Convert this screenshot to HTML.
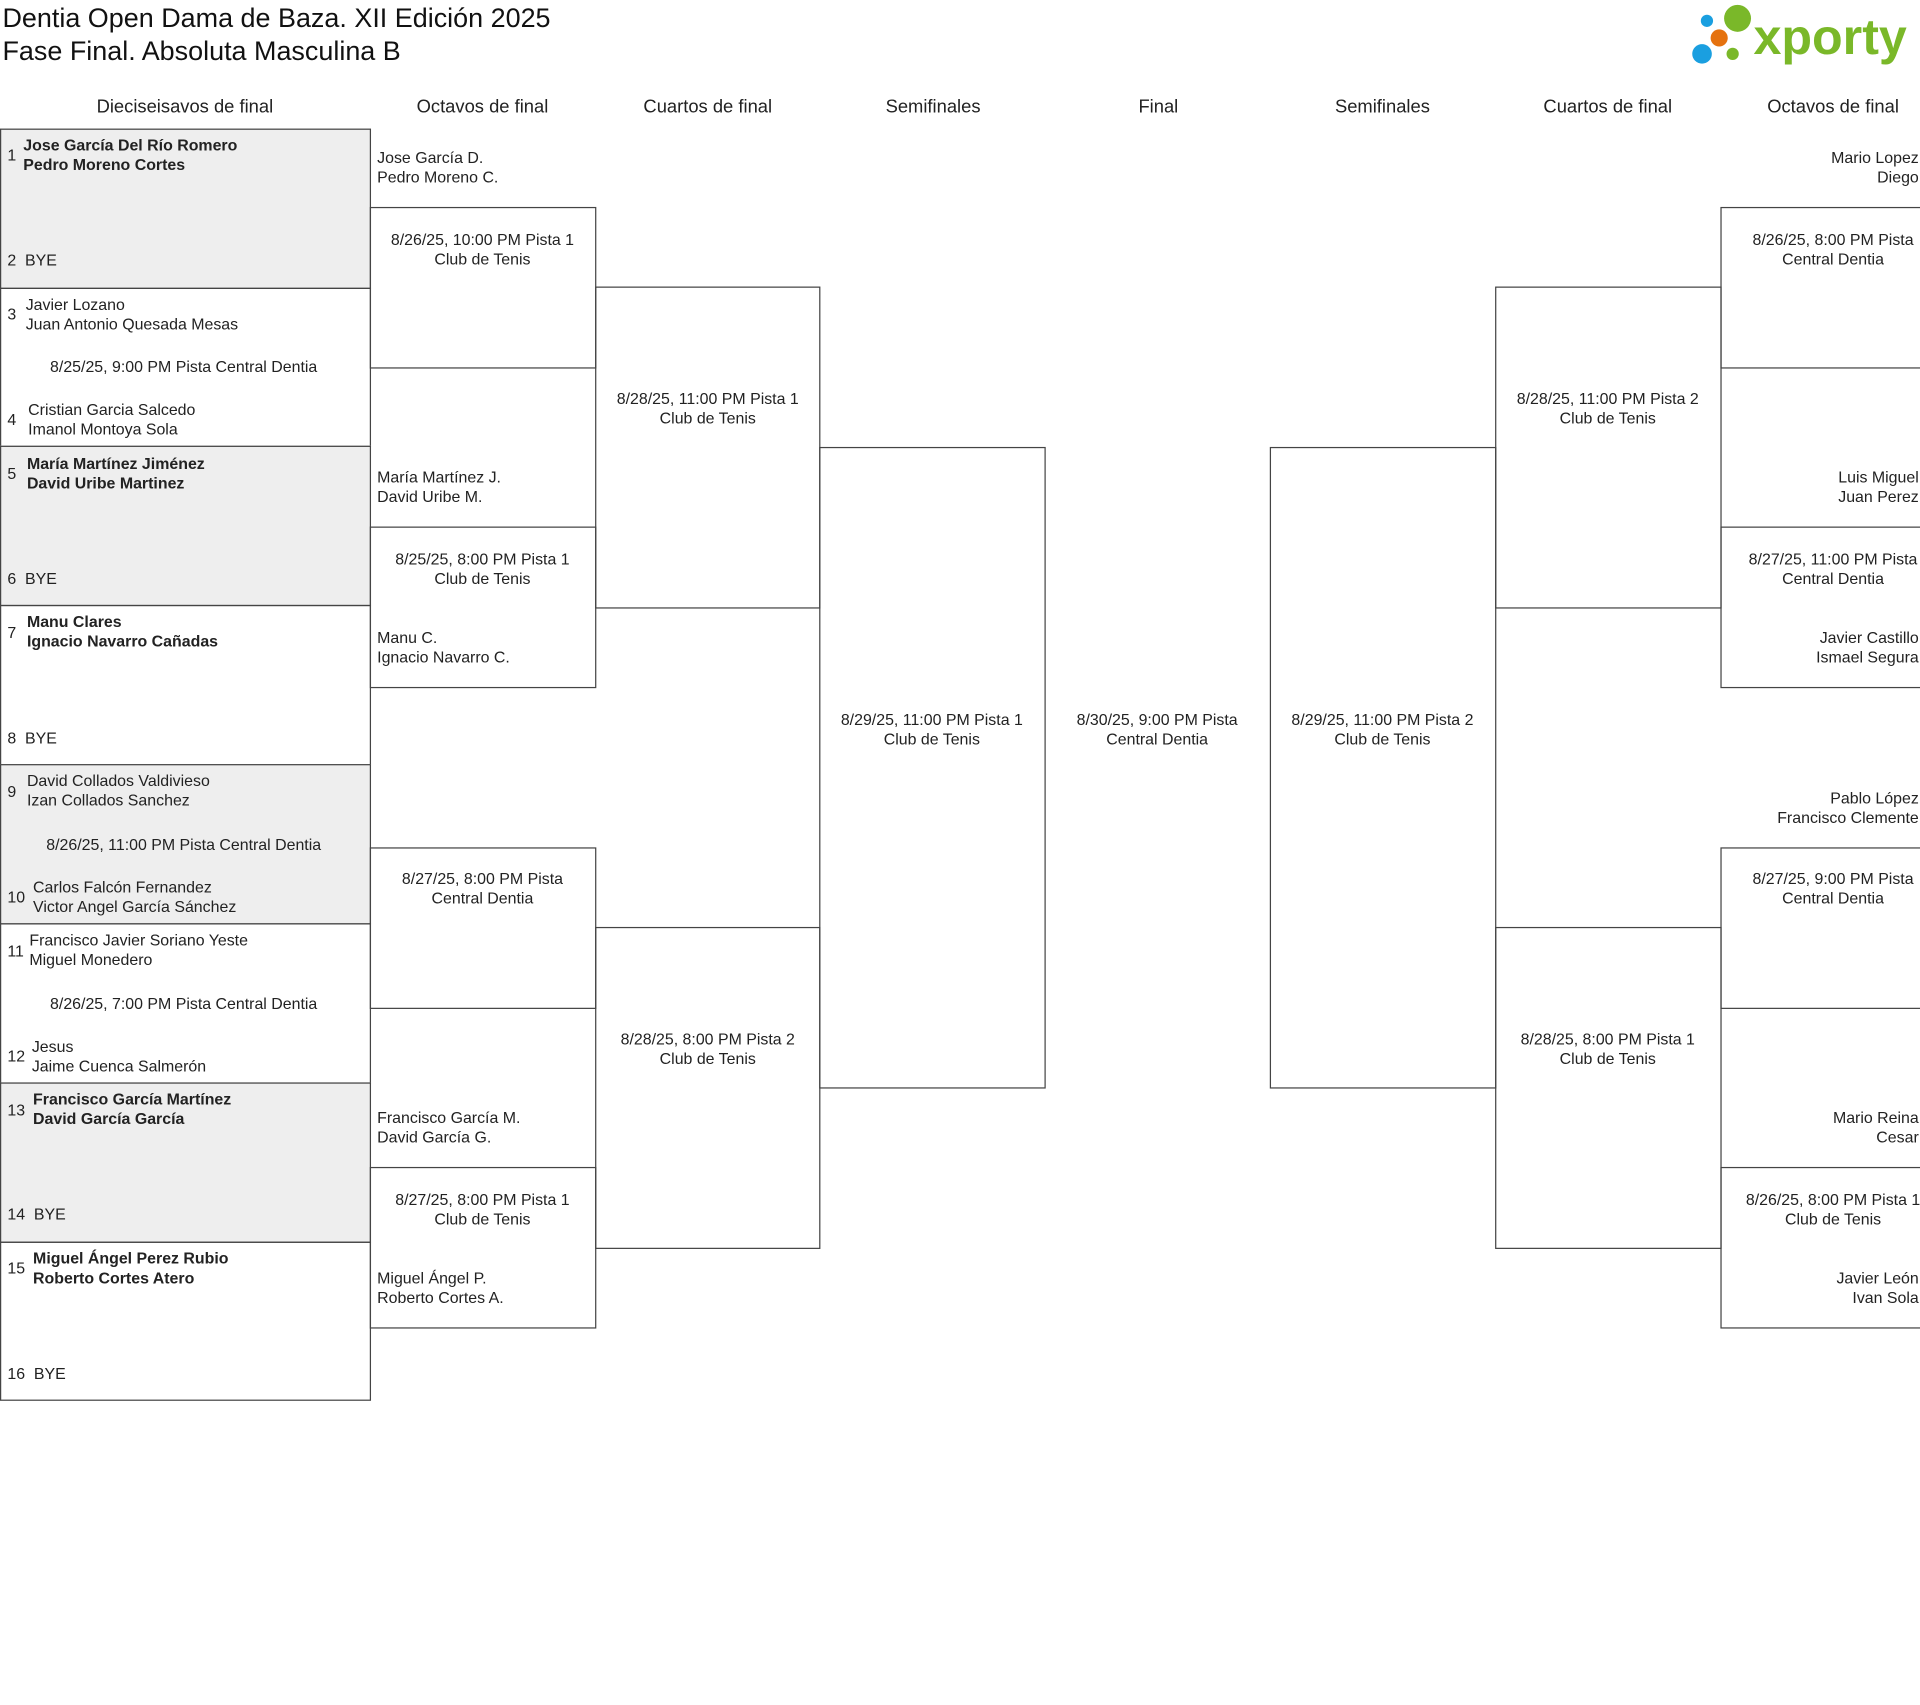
<!DOCTYPE html>
<html><head><meta charset="utf-8"><style>
html,body{margin:0;padding:0;background:#fff;width:1920px;height:1704px;overflow:hidden}
#w{position:absolute;left:0;top:0;width:1568px;height:1392px;transform:scale(1.22449);transform-origin:0 0;font-family:"Liberation Sans",sans-serif;color:#222}
.a{position:absolute;white-space:nowrap}
.t{font-size:13px;line-height:16px;padding-top:1px}
.b{position:absolute;border:1px solid #444;box-sizing:border-box}
.h{position:absolute;font-size:15px;top:79px;width:200px;text-align:center;margin-left:-100px;white-space:nowrap}
.c{text-align:center;width:240px;margin-left:-120px}
.r{text-align:right;right:1px}
.bold{font-weight:bold}
</style></head><body><div id="w">
<div class="a" style="left:2px;top:1px;font-size:22px;line-height:27px;color:#111">Dentia Open Dama de Baza. XII Edición 2025<br>Fase Final. Absoluta Masculina B</div>
<svg class="a" style="left:1378px;top:0" width="190" height="60">
<circle cx="16" cy="17" r="5" fill="#1a9fe0"/><circle cx="41" cy="15" r="11" fill="#7ab829"/><circle cx="26" cy="31" r="7" fill="#e5720f"/><circle cx="12" cy="44" r="8" fill="#1a9fe0"/><circle cx="37" cy="44" r="5" fill="#7ab829"/>
<text x="54" y="44" font-family="Liberation Sans,sans-serif" font-weight="bold" font-size="41" fill="#7ab829">xporty</text></svg>
<div class="h" style="left:151px">Dieciseisavos de final</div>
<div class="h" style="left:394px">Octavos de final</div>
<div class="h" style="left:578px">Cuartos de final</div>
<div class="h" style="left:762px">Semifinales</div>
<div class="h" style="left:946px">Final</div>
<div class="h" style="left:1129px">Semifinales</div>
<div class="h" style="left:1313px">Cuartos de final</div>
<div class="h" style="left:1497px">Octavos de final</div>

<div class="b" style="left:0;top:105px;width:303px;height:131px;background:#eee"></div>
<div class="b" style="left:0;top:235px;width:303px;height:130px"></div>
<div class="b" style="left:0;top:364px;width:303px;height:131px;background:#eee"></div>
<div class="b" style="left:0;top:494px;width:303px;height:131px"></div>
<div class="b" style="left:0;top:624px;width:303px;height:131px;background:#eee"></div>
<div class="b" style="left:0;top:754px;width:303px;height:131px"></div>
<div class="b" style="left:0;top:884px;width:303px;height:131px;background:#eee"></div>
<div class="b" style="left:0;top:1014px;width:303px;height:130px"></div>

<div class="a t" style="left:6px;top:118px">1</div><div class="a t bold" style="left:19px;top:110px">Jose García Del Río Romero<br>Pedro Moreno Cortes</div><div class="a t" style="left:6px;top:204px">2&nbsp;&nbsp;BYE</div>
<div class="a t" style="left:6px;top:248px">3</div><div class="a t" style="left:21px;top:240px">Javier Lozano<br>Juan Antonio Quesada Mesas</div><div class="a t c" style="left:150px;top:291px">8/25/25, 9:00 PM Pista Central Dentia</div><div class="a t" style="left:6px;top:334px">4</div><div class="a t" style="left:23px;top:326px">Cristian Garcia Salcedo<br>Imanol Montoya Sola</div>
<div class="a t" style="left:6px;top:378px">5</div><div class="a t bold" style="left:22px;top:370px">María Martínez Jiménez<br>David Uribe Martinez</div><div class="a t" style="left:6px;top:464px">6&nbsp;&nbsp;BYE</div>
<div class="a t" style="left:6px;top:508px">7</div><div class="a t bold" style="left:22px;top:499px">Manu Clares<br>Ignacio Navarro Cañadas</div><div class="a t" style="left:6px;top:594px">8&nbsp;&nbsp;BYE</div>
<div class="a t" style="left:6px;top:638px">9</div><div class="a t" style="left:22px;top:629px">David Collados Valdivieso<br>Izan Collados Sanchez</div><div class="a t c" style="left:150px;top:681px">8/26/25, 11:00 PM Pista Central Dentia</div><div class="a t" style="left:6px;top:724px">10</div><div class="a t" style="left:27px;top:716px">Carlos Falcón Fernandez<br>Victor Angel García Sánchez</div>
<div class="a t" style="left:6px;top:768px">11</div><div class="a t" style="left:24px;top:759px">Francisco Javier Soriano Yeste<br>Miguel Monedero</div><div class="a t c" style="left:150px;top:811px">8/26/25, 7:00 PM Pista Central Dentia</div><div class="a t" style="left:6px;top:854px">12</div><div class="a t" style="left:26px;top:846px">Jesus<br>Jaime Cuenca Salmerón</div>
<div class="a t" style="left:6px;top:898px">13</div><div class="a t bold" style="left:27px;top:889px">Francisco García Martínez<br>David García García</div><div class="a t" style="left:6px;top:983px">14&nbsp;&nbsp;BYE</div>
<div class="a t" style="left:6px;top:1027px">15</div><div class="a t bold" style="left:27px;top:1019px">Miguel Ángel Perez Rubio<br>Roberto Cortes Atero</div><div class="a t" style="left:6px;top:1113px">16&nbsp;&nbsp;BYE</div>

<div class="b" style="left:302px;top:169px;width:185px;height:132px"></div>
<div class="b" style="left:302px;top:430px;width:185px;height:132px"></div>
<div class="b" style="left:302px;top:692px;width:185px;height:132px"></div>
<div class="b" style="left:302px;top:953px;width:185px;height:132px"></div>
<div class="a t" style="left:308px;top:120px">Jose García D.<br>Pedro Moreno C.</div>
<div class="a t c" style="left:394px;top:187px">8/26/25, 10:00 PM Pista 1<br>Club de Tenis</div>
<div class="a t" style="left:308px;top:381px">María Martínez J.<br>David Uribe M.</div>
<div class="a t c" style="left:394px;top:448px">8/25/25, 8:00 PM Pista 1<br>Club de Tenis</div>
<div class="a t" style="left:308px;top:512px">Manu C.<br>Ignacio Navarro C.</div>
<div class="a t c" style="left:394px;top:709px">8/27/25, 8:00 PM Pista<br>Central Dentia</div>
<div class="a t" style="left:308px;top:904px">Francisco García M.<br>David García G.</div>
<div class="a t c" style="left:394px;top:971px">8/27/25, 8:00 PM Pista 1<br>Club de Tenis</div>
<div class="a t" style="left:308px;top:1035px">Miguel Ángel P.<br>Roberto Cortes A.</div>

<div class="b" style="left:486px;top:234px;width:184px;height:263px"></div>
<div class="b" style="left:486px;top:757px;width:184px;height:263px"></div>
<div class="a t c" style="left:578px;top:317px">8/28/25, 11:00 PM Pista 1<br>Club de Tenis</div>
<div class="a t c" style="left:578px;top:840px">8/28/25, 8:00 PM Pista 2<br>Club de Tenis</div>
<div class="b" style="left:669px;top:365px;width:185px;height:524px"></div>
<div class="a t c" style="left:761px;top:579px">8/29/25, 11:00 PM Pista 1<br>Club de Tenis</div>
<div class="a t c" style="left:945px;top:579px">8/30/25, 9:00 PM Pista<br>Central Dentia</div>

<div class="b" style="left:1037px;top:365px;width:185px;height:524px"></div>
<div class="a t c" style="left:1129px;top:579px">8/29/25, 11:00 PM Pista 2<br>Club de Tenis</div>
<div class="b" style="left:1221px;top:234px;width:185px;height:263px"></div>
<div class="b" style="left:1221px;top:757px;width:185px;height:263px"></div>
<div class="a t c" style="left:1313px;top:317px">8/28/25, 11:00 PM Pista 2<br>Club de Tenis</div>
<div class="a t c" style="left:1313px;top:840px">8/28/25, 8:00 PM Pista 1<br>Club de Tenis</div>
<div class="b" style="left:1405px;top:169px;width:200px;height:132px"></div>
<div class="b" style="left:1405px;top:430px;width:200px;height:132px"></div>
<div class="b" style="left:1405px;top:692px;width:200px;height:132px"></div>
<div class="b" style="left:1405px;top:953px;width:200px;height:132px"></div>
<div class="a t r" style="top:120px">Mario Lopez<br>Diego</div>
<div class="a t c" style="left:1497px;top:187px">8/26/25, 8:00 PM Pista<br>Central Dentia</div>
<div class="a t r" style="top:381px">Luis Miguel<br>Juan Perez</div>
<div class="a t c" style="left:1497px;top:448px">8/27/25, 11:00 PM Pista<br>Central Dentia</div>
<div class="a t r" style="top:512px">Javier Castillo<br>Ismael Segura</div>
<div class="a t r" style="top:643px">Pablo López<br>Francisco Clemente</div>
<div class="a t c" style="left:1497px;top:709px">8/27/25, 9:00 PM Pista<br>Central Dentia</div>
<div class="a t r" style="top:904px">Mario Reina<br>Cesar</div>
<div class="a t c" style="left:1497px;top:971px">8/26/25, 8:00 PM Pista 1<br>Club de Tenis</div>
<div class="a t r" style="top:1035px">Javier León<br>Ivan Sola</div>
</div></body></html>
